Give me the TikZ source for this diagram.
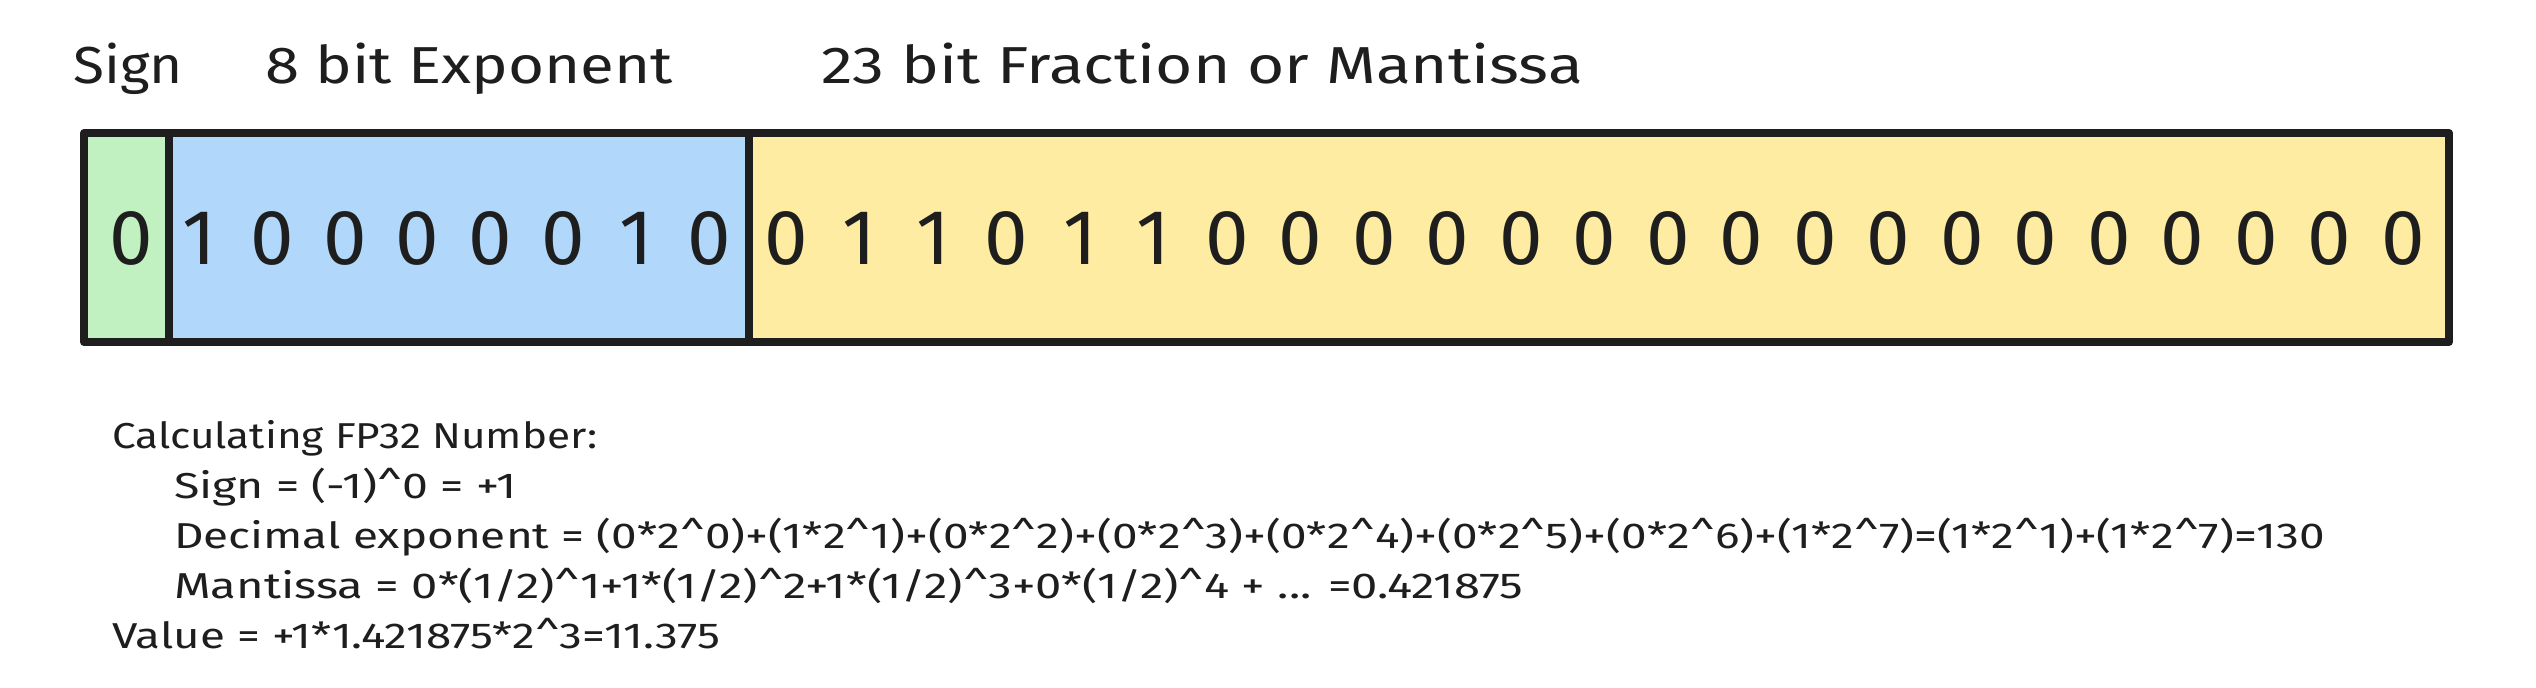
\documentclass[tikz,border=0pt]{standalone}
\usepackage{fontspec}
\setmainfont{Fira Sans}
\definecolor{signfill}{HTML}{C2F1C1}
\definecolor{expfill}{HTML}{B1D7FA}
\definecolor{fracfill}{HTML}{FDECA2}
\definecolor{ink}{HTML}{1E1E1E}
\tikzset{
  field/.style={draw=ink, line width=8pt},
  bitdigit/.style={font=\fontsize{78}{82}\selectfont, text=ink, inner sep=0pt, anchor=center},
  headlabel/.style={font=\fontsize{52}{56}\selectfont, text=ink, inner sep=0pt, anchor=base west},
  calcline/.style={font=\fontsize{36}{40}\selectfont, text=ink, inner sep=0pt, anchor=base west},
}
\begin{document}
\begin{tikzpicture}[x=1pt,y=-1pt]
\useasboundingbox (0,0) rectangle (2536,688);
% fields
\fill[signfill] (84,133) rectangle (169,342);
\fill[expfill] (169,133) rectangle (749,342);
\fill[fracfill] (749,133) rectangle (2449,342);
\draw[field] (169,133) -- (169,342);
\draw[field] (749,133) -- (749,342);
\draw[field, line join=round] (84,133) rectangle (2449,342);
% headings
\node[headlabel] (hsign) at (73,83) {\scalebox{1.09}[1]{Sign}};
\node[headlabel] (hexp) at (265,83) {\scalebox{1.19}[1]{8 bit Exponent}};
\node[headlabel] (hfrac) at (821,83) {\scalebox{1.23}[1]{23 bit Fraction or Mantissa}};
% sign bit
\node[bitdigit] (s0) at (131,238) {0};
% exponent bits
\foreach \b [count=\i from 0] in {1,0,0,0,0,0,1,0} {
  \node[bitdigit] (e\i) at ({199+72.9*\i},238) {\b};
}
% fraction bits
\foreach \b [count=\i from 0] in {0,1,1,0,1,1,0,0,0,0,0,0,0,0,0,0,0,0,0,0,0,0,0} {
  \node[bitdigit] (f\i) at ({786+73.5*\i},238) {\b};
}
% calculation
\node[calcline] (c1) at (112,448) {\scalebox{1.175}[1]{Calculating FP32 Number:}};
\node[calcline] (c2) at (174,498) {\scalebox{1.29}[1]{Sign = (-1)\^{}0 = +1}};
\node[calcline] (c3) at (174,548) {\scalebox{1.275}[1]{Decimal exponent = (0*2\^{}0)+(1*2\^{}1)+(0*2\^{}2)+(0*2\^{}3)+(0*2\^{}4)+(0*2\^{}5)+(0*2\^{}6)+(1*2\^{}7)=(1*2\^{}1)+(1*2\^{}7)=130}};
\node[calcline] (c4) at (174,598) {\scalebox{1.31}[1]{Mantissa = 0*(1/2)\^{}1+1*(1/2)\^{}2+1*(1/2)\^{}3+0*(1/2)\^{}4 + ... =0.421875}};
\node[calcline] (c5) at (112,648) {\scalebox{1.27}[1]{Value = +1*1.421875*2\^{}3=11.375}};
\end{tikzpicture}
\end{document}
